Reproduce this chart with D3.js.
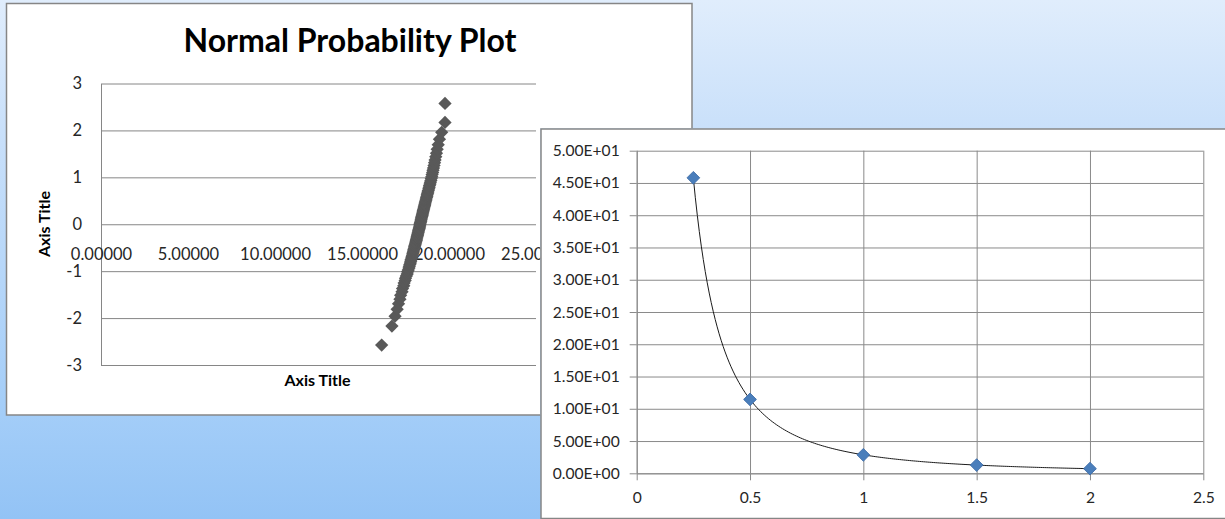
<!DOCTYPE html>
<html>
<head>
<meta charset="utf-8">
<script src="https://cdn.jsdelivr.net/npm/d3@7"></script>
<style>
  html, body { margin: 0; padding: 0; overflow: hidden; }
  svg { display: block; }
  text { font-family: Lato, "Open Sans", sans-serif; }
</style>
</head>
<body>
<svg id="slide" width="1225" height="519"></svg>
<script>
// ---- Normal probability plot: sorted observations and their normal scores ----
const normalObs = [
  16.13, 16.72, 16.90, 17.02, 17.10, 17.18, 17.22, 17.30, 17.33, 17.40,
  17.42, 17.48, 17.50, 17.55, 17.60, 17.62, 17.66, 17.70, 17.72, 17.75,
  17.78, 17.80, 17.82, 17.85, 17.88, 17.90, 17.92, 17.94, 17.96, 17.98,
  18.00, 18.02, 18.04, 18.06, 18.08, 18.10, 18.12, 18.13, 18.15, 18.17,
  18.19, 18.20, 18.22, 18.24, 18.25, 18.27, 18.29, 18.30, 18.32, 18.33,
  18.34, 18.36, 18.38, 18.39, 18.41, 18.42, 18.44, 18.46, 18.47, 18.49,
  18.51, 18.52, 18.54, 18.56, 18.58, 18.60, 18.61, 18.63, 18.65, 18.67,
  18.69, 18.71, 18.73, 18.75, 18.77, 18.79, 18.81, 18.84, 18.86, 18.88,
  18.91, 18.93, 18.96, 18.98, 19.01, 19.03, 19.06, 19.08, 19.11, 19.14,
  19.17, 19.20, 19.24, 19.28, 19.32, 19.38, 19.45, 19.58, 19.77, 19.77
];
const normalScores = [
  -2.576, -2.170, -1.960, -1.812, -1.695, -1.598, -1.514, -1.440, -1.372, -1.311,
  -1.254, -1.200, -1.150, -1.103, -1.058, -1.015, -0.974, -0.935, -0.896, -0.860,
  -0.824, -0.789, -0.755, -0.722, -0.690, -0.659, -0.628, -0.598, -0.568, -0.539,
  -0.510, -0.482, -0.454, -0.426, -0.399, -0.372, -0.345, -0.319, -0.292, -0.266,
  -0.240, -0.215, -0.189, -0.164, -0.138, -0.113, -0.088, -0.063, -0.038, -0.013,
   0.013,  0.038,  0.063,  0.088,  0.113,  0.138,  0.164,  0.189,  0.215,  0.240,
   0.266,  0.292,  0.319,  0.345,  0.372,  0.399,  0.426,  0.454,  0.482,  0.510,
   0.539,  0.568,  0.598,  0.628,  0.659,  0.690,  0.722,  0.755,  0.789,  0.824,
   0.860,  0.896,  0.935,  0.974,  1.015,  1.058,  1.103,  1.150,  1.200,  1.254,
   1.311,  1.372,  1.440,  1.514,  1.598,  1.695,  1.812,  1.960,  2.170,  2.576
];
const normalXTicks = [0, 5, 10, 15, 20, 25];
const normalYTicks = [-3, -2, -1, 0, 1, 2, 3];
const normalTitle = "Normal Probability Plot";
const axisTitleText = "Axis Title";

// ---- Decay series with power trendline ----
const decayX = [0.25, 0.5, 1, 1.5, 2];
const decayY = [45.8, 11.45, 2.86, 1.27, 0.72];
const decayXTicks = [0, 0.5, 1, 1.5, 2, 2.5];
const decayYTicks = [0, 5, 10, 15, 20, 25, 30, 35, 40, 45, 50];

const svg = d3.select("#slide");

// slide background
const defs = svg.append("defs");
const bg = defs.append("linearGradient").attr("id", "bg")
  .attr("x1", 0).attr("y1", 0).attr("x2", 0).attr("y2", 1);
[["0%", "#e0edfc"], ["25%", "#c9e0fa"], ["80%", "#a3cdf8"], ["100%", "#93c3f5"]]
  .forEach(([o, c]) => bg.append("stop").attr("offset", o).attr("stop-color", c));
svg.append("rect").attr("width", 1225).attr("height", 519).attr("fill", "url(#bg)");

// the second chart sits on top of the first; hide what it covers
const leftClip = defs.append("clipPath").attr("id", "leftClip");
leftClip.append("path").attr("d", "M0,0 H700 V128.25 H540.25 V420 H0 Z");

const diamond = size => d3.symbol(d3.symbolSquare, size);
const hyphenInt = v => String(v);   // plain hyphen-minus, as in spreadsheet charts

// ================= Left chart =================
const left = svg.append("g").attr("clip-path", "url(#leftClip)");
left.append("rect")
  .attr("x", 6.5).attr("y", 3.5).attr("width", 685.5).attr("height", 411.5)
  .attr("fill", "#ffffff").attr("stroke", "#868686").attr("stroke-width", 1.5);

const xL = d3.scaleLinear().domain([0, 25]).range([101, 536]);
const yL = d3.scaleLinear().domain([-3, 3]).range([365, 83.5]);

// horizontal gridlines
left.append("g")
  .attr("transform", `translate(${xL(0)},0)`)
  .call(d3.axisLeft(yL).tickValues(normalYTicks).tickSize(-(xL(25) - xL(0))).tickFormat(""))
  .call(g => g.select(".domain").remove())
  .call(g => g.selectAll("line").attr("stroke", "#868686").attr("stroke-width", 1));

// vertical axis with labels
left.append("g")
  .attr("transform", `translate(${xL(0)},0)`)
  .call(d3.axisLeft(yL).tickValues(normalYTicks).tickSize(0).tickPadding(19).tickFormat(hyphenInt))
  .call(g => g.select(".domain").attr("stroke", "#868686"))
  .call(g => g.selectAll("text").attr("font-size", 16.5).attr("fill", "#262626")
    .attr("font-family", "Lato, sans-serif"));

// horizontal axis labels sit under the zero line
left.append("g")
  .attr("transform", `translate(0,${yL(0)})`)
  .call(d3.axisBottom(xL).tickValues(normalXTicks).tickSize(0).tickPadding(24).tickFormat(d3.format(".5f")))
  .call(g => g.select(".domain").remove())
  .call(g => g.selectAll("text").attr("font-size", 16.5).attr("fill", "#262626")
    .attr("font-family", "Lato, sans-serif"));

// points
left.append("g").selectAll("path")
  .data(normalObs.map((v, i) => [v, normalScores[i]]))
  .join("path")
  .attr("d", diamond(88))
  .attr("transform", d => `translate(${xL(d[0])},${yL(d[1])}) rotate(45)`)
  .attr("fill", "#595959");

// titles
left.append("text")
  .attr("x", 350).attr("y", 51.5)
  .attr("text-anchor", "middle")
  .attr("font-size", 32).attr("font-weight", 700).attr("fill", "#000")
  .text(normalTitle);
left.append("text")
  .attr("x", 317.5).attr("y", 385.5)
  .attr("text-anchor", "middle")
  .attr("font-size", 16).attr("font-weight", 700).attr("fill", "#000")
  .text(axisTitleText);
left.append("text")
  .attr("transform", "translate(49.5,224) rotate(-90)")
  .attr("text-anchor", "middle")
  .attr("font-size", 16).attr("font-weight", 700).attr("fill", "#000")
  .text(axisTitleText);

// ================= Right chart =================
const right = svg.append("g");
right.append("rect")
  .attr("x", 541).attr("y", 129).attr("width", 700).attr("height", 389.5)
  .attr("fill", "#ffffff").attr("stroke", "#868686").attr("stroke-width", 1.5);

const xR = d3.scaleLinear().domain([0, 2.5]).range([636.7, 1203.3]);
const yR = d3.scaleLinear().domain([0, 50]).range([473.3, 150.7]);

const sciFormat = v => {
  const [m, e] = d3.format(".2e")(v).split("e");
  const sign = (e[0] === "-" || e[0] === "\u2212") ? "-" : "+";
  const digits = e.replace(/[+\-\u2212]/, "").padStart(2, "0");
  return `${m}E${sign}${digits}`;
};

// gridlines
right.append("g")
  .attr("transform", `translate(${xR(0)},0)`)
  .call(d3.axisLeft(yR).tickValues(decayYTicks).tickSize(-(xR(2.5) - xR(0))).tickFormat(""))
  .call(g => g.select(".domain").remove())
  .call(g => g.selectAll("line").attr("stroke", "#8a8a8a"));
right.append("g")
  .attr("transform", `translate(0,${yR(0)})`)
  .call(d3.axisBottom(xR).tickValues(decayXTicks).tickSize(-(yR(0) - yR(50))).tickFormat(""))
  .call(g => g.select(".domain").remove())
  .call(g => g.selectAll("line").attr("stroke", "#8a8a8a"));

// axes with outward ticks
right.append("g")
  .attr("transform", `translate(${xR(0)},0)`)
  .call(d3.axisLeft(yR).tickValues(decayYTicks).tickSize(7).tickSizeOuter(0).tickPadding(10).tickFormat(sciFormat))
  .call(g => g.selectAll(".domain, line").attr("stroke", "#8a8a8a"))
  .call(g => g.selectAll("text").attr("font-size", 15.6).attr("fill", "#262626")
    .attr("font-family", "Lato, sans-serif"));
right.append("g")
  .attr("transform", `translate(0,${yR(0)})`)
  .call(d3.axisBottom(xR).tickValues(decayXTicks).tickSize(7).tickSizeOuter(0).tickPadding(11.5).tickFormat(d3.format("")))
  .call(g => g.selectAll(".domain, line").attr("stroke", "#8a8a8a"))
  .call(g => g.selectAll("text").attr("font-size", 15.6).attr("fill", "#262626")
    .attr("font-family", "Lato, sans-serif"));

// power trendline y = a * x^b fitted on log-log scale
const lx = decayX.map(Math.log), ly = decayY.map(Math.log);
const mx = d3.mean(lx), my = d3.mean(ly);
const b = d3.sum(lx.map((v, i) => (v - mx) * (ly[i] - my))) / d3.sum(lx.map(v => (v - mx) ** 2));
const a = Math.exp(my - b * mx);
const [x0, x1] = d3.extent(decayX);
const trend = d3.range(0, 201).map(k => {
  const x = x0 + (x1 - x0) * k / 200;
  return [x, a * Math.pow(x, b)];
});
right.append("path")
  .datum(trend)
  .attr("d", d3.line().x(d => xR(d[0])).y(d => yR(d[1])))
  .attr("fill", "none").attr("stroke", "#1a1a1a").attr("stroke-width", 1);

// points
right.append("g").selectAll("path")
  .data(decayX.map((v, i) => [v, decayY[i]]))
  .join("path")
  .attr("d", diamond(82))
  .attr("transform", d => `translate(${xR(d[0])},${yR(d[1])}) rotate(45)`)
  .attr("fill", "#4a7ebb").attr("stroke", "#3d6ca6").attr("stroke-width", 0.8);
</script>
</body>
</html>
